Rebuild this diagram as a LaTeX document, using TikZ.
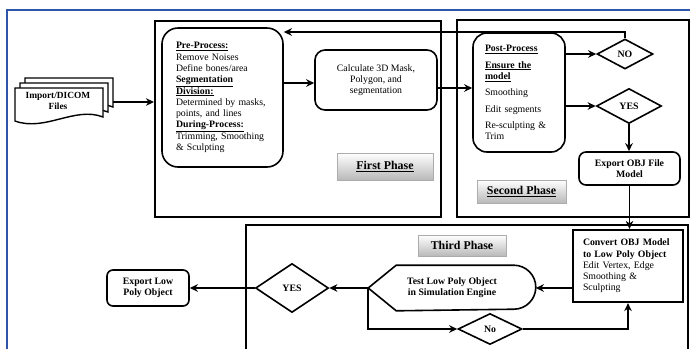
\documentclass[tikz,border=0pt]{standalone}
\usepackage{fontspec}
\setmainfont{Liberation Serif}
\usetikzlibrary{arrows.meta,shapes.geometric,fit}

\tikzset{
  frame/.style={draw, line width=2pt, inner sep=0pt},
  box/.style={draw, line width=1.6pt, inner sep=0pt, font=\fontsize{9.8}{11.3}\selectfont},
  boldbox/.style={box, font=\fontsize{9.8}{11.3}\selectfont\bfseries},
  decision/.style={draw, diamond, line width=1.6pt, inner sep=0pt, font=\fontsize{9.8}{11.3}\selectfont\bfseries},
  phase/.style={draw=gray!65, line width=0.6pt, top color=white, bottom color=gray!55, inner sep=0pt, font=\fontsize{11.9}{13}\selectfont\bfseries},
  arr/.style={line width=1.7pt, -{Stealth[length=8pt,width=7.5pt,inset=2.5pt]}},
  doc/.style={draw, line width=1.4pt, fill=white},
}

\begin{document}
\begin{tikzpicture}[x=1pt,y=1pt,yscale=-1,xscale=1]
\useasboundingbox (0,0) rectangle (690,349);

% outer frame
\draw [color={rgb, 255:red, 47; green, 85; blue, 170 }, line width=1.3pt] (7,349) |- (690,10);

% phase frames
\node[frame, fit={(155,21) (441,217)}] (first) {};
\node[frame, fit={(457,20) (689,217)}] (second) {};
\draw [line width=2pt] (246,349) |- (688,225) -- (688,349);

% import files
\draw [doc, shift={(10,-10)}] (15,88) -- (103,88) -- (103,117) .. controls (75,106) and (45,132) .. (15,121) -- cycle;
\draw [doc, shift={(5,-5)}] (15,88) -- (103,88) -- (103,117) .. controls (75,106) and (45,132) .. (15,121) -- cycle;
\draw [doc] (15,88) -- (103,88) -- (103,117) .. controls (75,106) and (45,132) .. (15,121) -- cycle;
\node[font=\fontsize{9.4}{11.5}\selectfont\bfseries, align=center] (import) at (58,101) {Import/DICOM\\Files};
\coordinate (importR) at (113,102);

% first phase
\node[box, rounded corners=16pt, minimum width=121pt, minimum height=139pt, text width=93pt, inner xsep=14pt, align=left] (pre) at (222.5,97.5) {\underline{\textbf{Pre-Process:}}\\Remove Noises\\Define bones/area\\\underline{\textbf{Segmentation}}\\\underline{\textbf{Division:}}\\Determined by masks,\\points, and lines\\\underline{\textbf{During-Process:}}\\Trimming, Smoothing\\\& Sculpting};
\node[box, rounded corners=10pt, minimum width=122pt, minimum height=60pt, align=center] (calc) at (376,80) {Calculate 3D Mask,\\Polygon, and\\segmentation};
\node[phase, minimum width=96pt, minimum height=27pt] (firstlbl) at (385,166.5) {\underline{First Phase}};

% second phase
\node[box, rounded corners=14pt, minimum width=92pt, minimum height=119pt, text width=68pt, inner xsep=12pt, align=left] (post) at (519,92.5) {\underline{\textbf{Post-Process}}\\[5pt]\underline{\textbf{Ensure the}}\\\underline{\textbf{model}}\\[5pt]Smoothing\\[5pt]Edit segments\\[5pt]Re-sculpting \&\\Trim};
\node[decision, minimum width=56pt, minimum height=30pt] (no) at (625,54) {NO};
\node[decision, minimum width=65pt, minimum height=35pt] (yes) at (629,106) {YES};
\node[boldbox, rounded corners=7pt, minimum width=101pt, minimum height=33pt, align=center] (expobj) at (629.5,168.5) {Export OBJ File\\Model};
\node[phase, minimum width=89pt, minimum height=23pt] (secondlbl) at (521.5,191.5) {\underline{Second Phase}};

% third phase
\node[phase, minimum width=88pt, minimum height=21pt] (thirdlbl) at (462,245.5) {Third Phase};
\node[box, line width=2.2pt, minimum width=110pt, minimum height=72pt, text width=90pt, inner xsep=10pt, align=left] (convert) at (628,266) {\textbf{Convert OBJ Model}\\\textbf{to Low Poly Object}\\Edit Vertex, Edge\\Smoothing \&\\Sculpting};
\node[boldbox, draw=none, minimum width=166pt, minimum height=44pt, align=center] (test) at (452,288) {Test Low Poly Object\\in Simulation Engine};
\draw [line width=1.6pt] (test.west) -- ([xshift=28pt]test.north west) -- ([xshift=-22pt]test.north east) arc[start angle=-90, end angle=90, radius=22pt] -- ([xshift=28pt]test.south west) -- cycle;
\node[decision, minimum width=73pt, minimum height=49pt] (yes3) at (292,288) {YES};
\node[decision, minimum width=64pt, minimum height=31pt] (no3) at (490,329) {No};
\node[boldbox, rounded corners=6pt, minimum width=82pt, minimum height=36pt, align=center] (explow) at (148,288) {Export Low\\Poly Object};

% connectors
\draw [arr] (importR) -- (first.west |- importR);
\draw [arr] (pre.east |- 0,83) -- (calc.west |- 0,83);
\draw [arr] (calc.east |- 0,88) -- (post.west |- 0,88);
\draw [arr] (post.east |- no.west) -- (no.west);
\draw [arr] (post.east |- yes.west) -- (yes.west);
\draw [arr] (no.north) |- (pre.east |- 0,32);
\draw [arr] (yes.south) -- (yes.south |- expobj.north);
\draw [arr] (expobj.south) -- (expobj.south |- convert.north);
\draw [arr] (convert.west |- test.east) -- (test.east);
\draw [arr] (test.west) -- (yes3.east);
\draw [arr] (yes3.west) -- (explow.east);
\draw [arr] (test.west) |- (no3.west);
\draw [arr] (no3.east) -| (convert.south);

\end{tikzpicture}
\end{document}
